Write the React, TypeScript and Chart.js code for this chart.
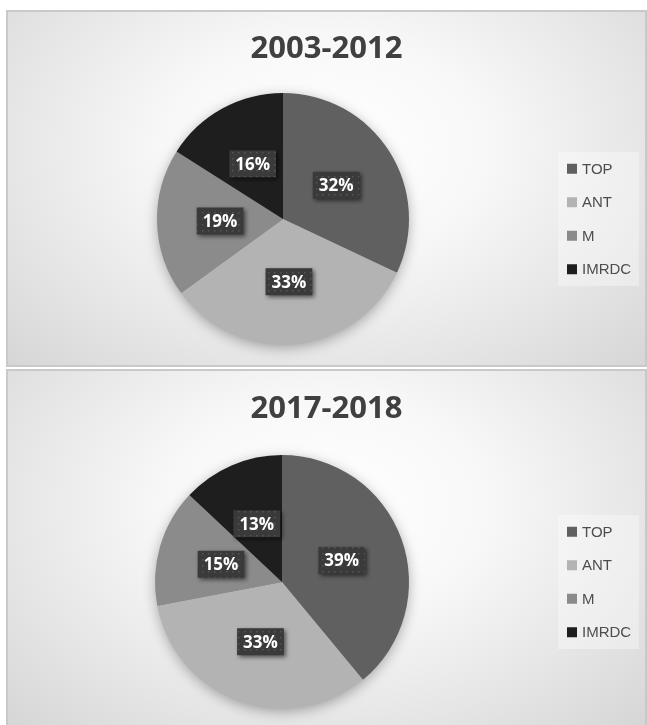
import React, { useEffect, useRef } from "react";
import { Chart, registerables } from "chart.js";

Chart.register(...registerables);

const categories = ["TOP", "ANT", "M", "IMRDC"];
const colors = ["#606060", "#b3b3b3", "#8b8b8b", "#1e1e1e"];
const titles = ["2003-2012", "2017-2018"];
const values2003 = [32, 33, 19, 16];
const values2017 = [39, 33, 15, 13];

function makePattern(ctx: CanvasRenderingContext2D) {
  const c = document.createElement("canvas");
  c.width = 6;
  c.height = 6;
  const p = c.getContext("2d")!;
  p.fillStyle = "#3a3a3a";
  p.fillRect(0, 0, 6, 6);
  p.fillStyle = "#565656";
  p.fillRect(2, 2, 1.5, 1.5);
  return ctx.createPattern(c, "repeat");
}

const decorPlugin = {
  id: "decor",
  beforeDatasetsDraw(chart: any, _args: any, opts: any) {
    const ctx = chart.ctx;
    // title centred on the whole canvas
    ctx.save();
    ctx.font = "bold 31px 'Open Sans'";
    ctx.fillStyle = "#404040";
    ctx.textAlign = "center";
    ctx.textBaseline = "middle";
    ctx.fillText(opts.title, chart.width / 2, opts.titleY);
    ctx.restore();

    const meta = chart.getDatasetMeta(0);
    const arc = meta.data[0];
    if (!arc) return;
    const { x, y, outerRadius } = arc.getProps(["x", "y", "outerRadius"], true);
    ctx.save();
    ctx.shadowColor = "rgba(0,0,0,0.35)";
    ctx.shadowBlur = 14;
    ctx.shadowOffsetY = 3;
    ctx.fillStyle = "#888";
    ctx.beginPath();
    ctx.arc(x, y, outerRadius - 1, 0, Math.PI * 2);
    ctx.fill();
    ctx.restore();
  },
  afterDatasetsDraw(chart: any) {
    const ctx = chart.ctx;
    const meta = chart.getDatasetMeta(0);
    const data = chart.data.datasets[0].data as number[];
    const total = data.reduce((a, b) => a + b, 0);
    const pattern = makePattern(ctx);
    ctx.save();
    ctx.font = "bold 17px 'Open Sans'";
    ctx.textAlign = "center";
    ctx.textBaseline = "middle";
    meta.data.forEach((arc: any, i: number) => {
      const { x, y, startAngle, endAngle, outerRadius } = arc.getProps(
        ["x", "y", "startAngle", "endAngle", "outerRadius"],
        true
      );
      const mid = (startAngle + endAngle) / 2;
      const px = x + Math.cos(mid) * outerRadius * 0.5;
      const py = y + Math.sin(mid) * outerRadius * 0.5;
      const txt = Math.round((data[i] / total) * 100) + "%";
      const w = ctx.measureText(txt).width + 12;
      const h = 27;
      ctx.save();
      ctx.shadowColor = "rgba(0,0,0,0.55)";
      ctx.shadowBlur = 4;
      ctx.shadowOffsetX = 2;
      ctx.shadowOffsetY = 2;
      ctx.fillStyle = pattern || "#3a3a3a";
      ctx.fillRect(px - w / 2, py - h / 2, w, h);
      ctx.restore();
      ctx.fillStyle = "#ffffff";
      ctx.fillText(txt, px, py + 1);
    });
    ctx.restore();

    // legend
    const arc0 = meta.data[0];
    const cy = arc0.y;
    const labels = chart.data.labels as string[];
    const bg = chart.data.datasets[0].backgroundColor as string[];
    const spacing = 33.5;
    const boxX = 550;
    const boxW = 81;
    const boxH = 134;
    ctx.save();
    ctx.fillStyle = "rgba(255,255,255,0.35)";
    ctx.fillRect(boxX, cy - boxH / 2, boxW, boxH);
    ctx.font = "15px 'Liberation Sans'";
    ctx.textAlign = "left";
    ctx.textBaseline = "middle";
    labels.forEach((lab, i) => {
      const iy = cy + (i - (labels.length - 1) / 2) * spacing;
      ctx.fillStyle = bg[i];
      ctx.fillRect(boxX + 9, iy - 5, 10, 10);
      ctx.fillStyle = "#4d4d4d";
      ctx.fillText(lab, boxX + 24, iy + 1);
    });
    ctx.restore();
  },
};

type PanelProps = {
  title: string;
  values: number[];
  top: number;
  height: number;
  titleY: number;
  pad: { left: number; right: number; top: number; bottom: number };
};

function Panel({ title, values, top, height, titleY, pad }: PanelProps) {
  const ref = useRef<HTMLCanvasElement | null>(null);
  useEffect(() => {
    if (!ref.current) return;
    const chart = new Chart(ref.current, {
      type: "pie",
      data: {
        labels: categories,
        datasets: [
          {
            data: values,
            backgroundColor: colors,
            borderWidth: 0,
          },
        ],
      },
      options: {
        responsive: false,
        animation: false,
        devicePixelRatio: 1,
        layout: { padding: pad },
        plugins: {
          legend: { display: false },
          tooltip: { enabled: false },
          title: { display: false },
          decor: { title, titleY },
        } as any,
      },
      plugins: [decorPlugin],
    });
    return () => chart.destroy();
  }, []);
  const innerW = 641 - 4;
  const innerH = height - 4;
  return (
    <div
      style={{
        position: "absolute",
        left: 6,
        top,
        width: 641,
        height,
        boxSizing: "border-box",
        border: "2px solid #c9c9c9",
        background:
          "radial-gradient(ellipse farthest-corner at 50% 38%, #ffffff 0%, #f8f8f8 35%, #e6e6e6 70%, #d6d6d6 100%)",
      }}
    >
      <canvas
        ref={ref}
        width={innerW}
        height={innerH}
        style={{ display: "block", width: innerW, height: innerH }}
      />
    </div>
  );
}

export default function App() {
  return (
    <div
      style={{
        position: "absolute",
        left: 0,
        top: 0,
        width: 647,
        height: 725,
        background: "#ffffff",
        overflow: "hidden",
      }}
    >
      <Panel
        title={titles[0]}
        values={values2003}
        top={10}
        height={357}
        titleY={37.5}
        pad={{ left: 149, right: 236, top: 81, bottom: 20 }}
      />
      <Panel
        title={titles[1]}
        values={values2017}
        top={369}
        height={358}
        titleY={38.5}
        pad={{ left: 147, right: 236, top: 84, bottom: 16 }}
      />
    </div>
  );
}
